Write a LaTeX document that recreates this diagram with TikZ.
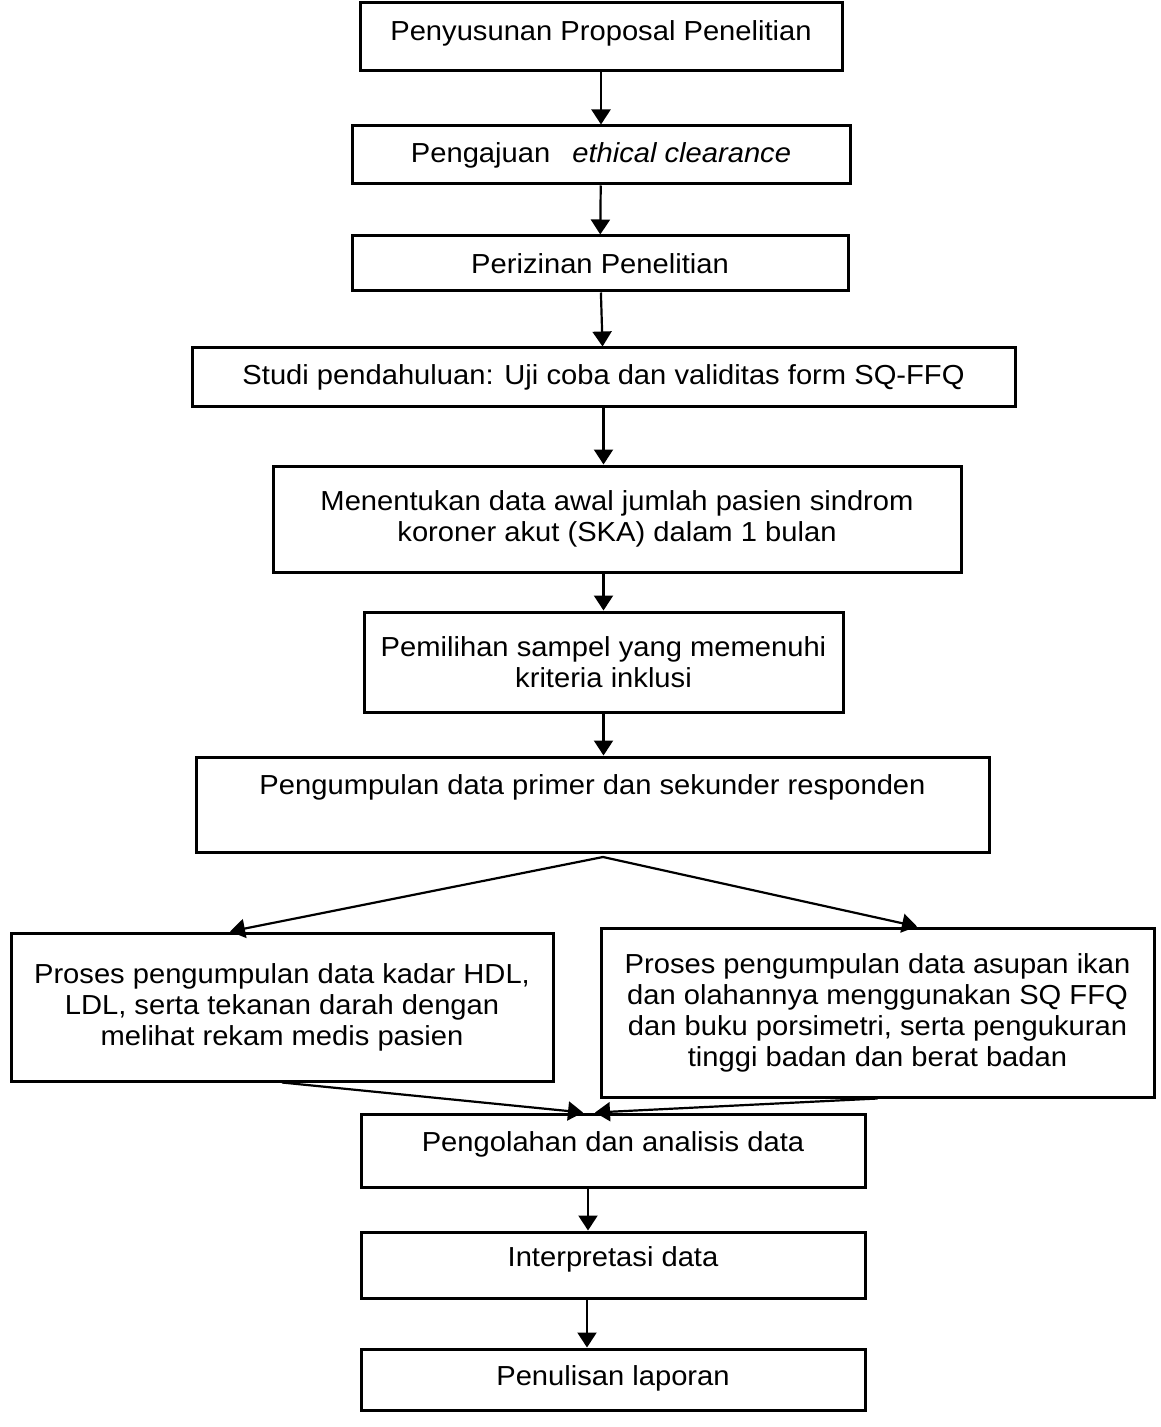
\documentclass[tikz,border=0pt]{standalone}
\usepackage{fontspec}
\setmainfont{Liberation Sans}[FakeStretch=1.06]
\usetikzlibrary{arrows.meta}

\begin{document}
\begin{tikzpicture}[
  x=0.5pt, y=-0.5pt,
  kotak/.style={draw=black, line width=1.5pt, align=center, inner sep=0pt,
    font=\fontsize{13.75}{15.5}\selectfont},
  panah/.style={-{Triangle[length=7.5pt, width=9.5pt]}, line width=1.1pt}
]
\useasboundingbox (0,0) rectangle (1160,1427);

% Tahap persiapan
\node[kotak, minimum width=241pt, minimum height=34pt, text depth=6pt] (b1) at (601,37) {Penyusunan Proposal Penelitian};
\node[kotak, minimum width=249pt, minimum height=29pt] (b2) at (601,155) {Pengajuan\hspace{0.8em}\textit{ethical clearance}};
\node[kotak, minimum width=248pt, minimum height=27.5pt] (b3) at (600,263.5) {Perizinan Penelitian};
\node[kotak, minimum width=411.5pt, minimum height=29.5pt] (b4) at (603.5,377.5) {Studi pendahuluan: Uji coba dan validitas form SQ-FFQ};

% Sampel dan pengumpulan data
\node[kotak, minimum width=344pt, minimum height=53pt] (b5) at (617,519) {Menentukan data awal jumlah pasien sindrom\\koroner akut (SKA) dalam 1 bulan};
\node[kotak, minimum width=239.5pt, minimum height=50pt] (b6) at (603.5,662) {Pemilihan sampel yang memenuhi\\kriteria inklusi};
\node[kotak, minimum width=396.5pt, minimum height=47.5pt, text depth=20pt] (b7) at (592.5,804.5) {Pengumpulan data primer dan sekunder responden};
\coordinate (cabang) at (603,857);

% Dua cabang proses
\node[kotak, minimum width=271pt, minimum height=74pt] (kiri) at (282,1007) {Proses pengumpulan data kadar HDL,\\LDL, serta tekanan darah dengan\\melihat rekam medis pasien};
\node[kotak, minimum width=276.5pt, minimum height=84.5pt] (kanan) at (877.5,1012.5) {Proses pengumpulan data asupan ikan\\dan olahannya menggunakan SQ FFQ\\dan buku porsimetri, serta pengukuran\\tinggi badan dan berat badan};

% Tahap akhir
\node[kotak, minimum width=252pt, minimum height=36.5pt, text depth=9pt] (b10) at (613,1150.5) {Pengolahan dan analisis data};
\node[kotak, minimum width=252pt, minimum height=33pt, text depth=8pt] (b11) at (613,1265) {Interpretasi data};
\node[kotak, minimum width=252pt, minimum height=30.5pt, text depth=4pt] (b12) at (613,1379.5) {Penulisan laporan};

% Panah
\draw[panah] (b1) -- (b2);
\draw[panah] (b2) -- (b3);
\draw[panah] (b3) -- (b4);
\draw[panah] (b4.south) -- (b4.south |- b5.north);
\draw[panah] (b6.north |- b5.south) -- (b6.north);
\draw[panah] (b6.south) -- (b6.south |- b7.north);
\draw[panah] (cabang) -- ([xshift=-26pt]kiri.north);
\draw[panah] (cabang) -- ([xshift=19.75pt]kanan.north);
\draw[panah] (kiri.south) -- ([xshift=-15pt]b10.north);
\draw[panah] (kanan.south) -- ([xshift=-9pt]b10.north);
\draw[panah] ([xshift=-12.5pt]b10.south) -- ([xshift=-12.5pt]b11.north);
\draw[panah] ([xshift=-13pt]b11.south) -- ([xshift=-13pt]b12.north);
\end{tikzpicture}
\end{document}
